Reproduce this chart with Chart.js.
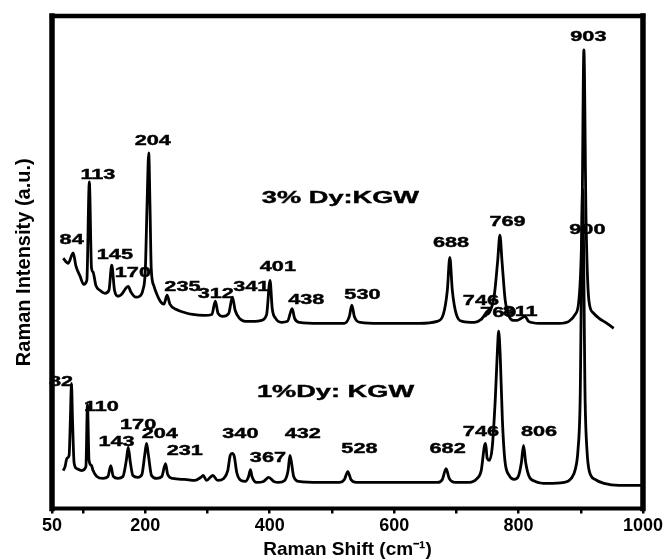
<!DOCTYPE html>
<html>
<head>
<meta charset="utf-8">
<script src="https://cdn.jsdelivr.net/npm/chart.js@4.4.1/dist/chart.umd.min.js"></script>
<style>
  body { margin: 0; background: #fff; }
  #wrap { width: 665px; height: 560px; }
</style>
</head>
<body>
<div id="wrap"><canvas id="raman" width="665" height="560"></canvas></div>
<script>
// Series names
const seriesNames = ['3% Dy:KGW', '1%Dy: KGW'];

// 3% Dy:KGW spectrum (Raman shift, intensity a.u.)
const shift3 = [68, 76, 84, 88.5, 95, 101, 106, 110, 113.5, 116, 120.5, 127, 135, 141.5, 146, 150.5, 156, 162, 168.5, 172.5,
  177, 185, 191, 196, 200, 203, 205.5, 207.5, 209.5, 213.5, 218.5, 225, 230, 235, 239.5, 250, 263, 276, 295, 307,
  312.5, 317, 324.5, 334, 340, 344.5, 351.5, 361, 376, 387, 395, 400.5, 404, 409.5, 419, 428.5, 436, 440, 448, 480,
  520, 528, 532, 536, 546, 576, 640, 669, 679, 685.5, 689.5, 693.5, 700, 709.5, 729, 740, 745.5, 753, 761, 766.5,
  770, 773.5, 778.5, 785, 791, 798, 804, 810.5, 816, 833, 865, 881, 891, 897, 902, 905, 908.5, 913, 919.5, 929.5,
  942, 953];
const int3 = [50.8, 49.8, 51.9, 49.2, 47.2, 45.5, 46.3, 66.3, 48.8, 48.0, 45.3, 44.3, 43.7, 44.3, 49.4, 44.3, 43.1, 43.5, 44.7, 45.1,
  43.9, 42.9, 43.1, 44.3, 48.4, 62.6, 72.2, 61.6, 48.8, 45.3, 43.5, 41.9, 41.5, 43.3, 41.5, 40.4, 39.8, 39.4, 39.2, 39.4,
  42.1, 39.6, 39.0, 39.6, 42.9, 40.2, 38.6, 38.0, 38.0, 38.2, 39.4, 46.3, 40.6, 38.6, 37.8, 38.0, 40.6, 38.6, 37.8, 37.6,
  37.6, 39.0, 41.3, 39.0, 37.8, 37.6, 37.6, 38.0, 39.4, 44.3, 51.0, 44.3, 39.4, 38.0, 37.8, 38.4, 39.2, 39.8, 43.3, 50.4,
  55.5, 50.0, 42.3, 39.0, 38.2, 38.2, 38.6, 39.0, 38.0, 37.6, 37.6, 38.0, 39.4, 42.3, 58.5, 93.1, 58.5, 42.3, 39.8, 38.6,
  37.6, 36.6];

// 1%Dy: KGW spectrum
const shift1 = [68, 71, 74, 77.5, 79.5, 81.3, 83, 85.5, 90, 98, 104.5, 107, 109.5, 113.5, 116, 122, 132, 140, 144.5, 148.5,
  156, 164, 169.5, 172.5, 176, 180, 188, 194.5, 199, 202, 205, 210, 218.5, 226.5, 232.5, 236, 244, 263, 279.5, 289,
  293, 298.5, 308.5, 316.5, 326, 332.5, 336.5, 339.5, 343, 347, 353.5, 361, 366, 369, 371.5, 379, 390, 398.5, 406.5, 414,
  424, 429.5, 432.5, 435, 438.5, 446.5, 480, 512, 520, 525.5, 530.5, 539.5, 608, 669.5, 677.5, 683.5, 688.5, 698.5, 720.5, 733.5,
  740, 745, 747, 749.5, 753, 757.5, 762.5, 766, 768, 770.5, 774, 778, 785, 793, 799.5, 804.5, 808, 811.5, 817, 827,
  846, 873, 884.5, 891.5, 895.5, 899, 903, 907, 910, 913.5, 923, 937.5, 961.5, 998];
const int1 = [7.7, 8.5, 10.2, 10.8, 17.9, 25.4, 17.9, 9.3, 8.1, 7.7, 8.5, 21.1, 9.8, 8.7, 7.7, 6.5, 6.1, 6.5, 8.7, 6.5,
  6.1, 6.5, 9.8, 12.4, 9.3, 6.7, 6.3, 6.9, 10.8, 13.2, 10.8, 6.7, 6.1, 6.5, 9.1, 6.9, 6.1, 5.9, 5.7, 6.3,
  6.7, 5.7, 6.7, 5.7, 6.1, 7.7, 10.8, 11.2, 10.6, 7.3, 5.7, 5.5, 6.5, 7.9, 6.5, 5.3, 5.5, 6.3, 5.5, 5.3,
  5.7, 7.7, 10.8, 9.3, 6.5, 5.5, 5.3, 5.3, 5.9, 7.5, 5.9, 5.3, 5.3, 5.3, 5.9, 8.1, 6.1, 5.3, 5.3, 6.1,
  7.7, 12.6, 13.2, 10.2, 9.8, 12.2, 22.0, 32.1, 36.0, 31.1, 17.9, 9.8, 6.7, 5.9, 6.5, 9.3, 12.8, 9.3, 6.5, 5.5,
  5.1, 5.3, 6.1, 8.1, 11.8, 22.0, 64.8, 22.0, 11.8, 7.7, 5.9, 5.1, 4.7, 4.7];

// peak labels and where they sit (data units)
const labels3 = ['84', '113', '145', '170', '204', '235', '312', '341', '401', '438', '530', '688', '746', '769', '811', '903'];
const labelX3 = [81.6, 123.8, 151.1, 180, 212.1, 259.7, 313.2, 370.4, 413.1, 458.7, 549, 691.4, 739.5, 782.2, 802.6, 912.2];
const labelY3 = [54.5, 67.7, 51.4, 47.8, 74.5, 45.0, 43.5, 44.9, 49.0, 42.3, 43.3, 53.8, 42.1, 58.2, 39.8, 95.7];

const labels1 = ['82', '110', '143', '170', '204', '231', '340', '367', '432', '528', '682', '746', '769', '806', '900'];
const labelX1 = [64.4, 129.4, 153.8, 188.5, 223.3, 263.4, 352.8, 397.1, 453.2, 544.2, 686, 739.5, 767.3, 833, 910.6];
const labelY1 = [25.6, 20.5, 13.5, 16.9, 15.0, 11.6, 15.0, 10.3, 15.0, 12.1, 12.1, 15.5, 39.6, 15.5, 56.5];

const nameX = [513.7, 505.7];
const nameY = [63.0, 23.6];

// x axis ticks
const tickValues = [50, 100, 200, 300, 400, 500, 600, 700, 800, 900, 1000];
const tickLabels = ['50', '', '200', '', '400', '', '600', '', '800', '', '1000'];

const toPoints = (xs, ys) => xs.map((x, i) => ({x: x, y: ys[i]}));

// draw the stretched annotation text under the curves
function stretchedText(ctx, text, x, y, size, sx) {
    ctx.save();
    ctx.translate(x, y);
    ctx.scale(sx, 1);
    ctx.font = 'bold ' + size + 'px "Liberation Sans", Arial, sans-serif';
    ctx.fillStyle = '#000';
    ctx.strokeStyle = '#000';
    ctx.lineWidth = 0.4;
    ctx.textAlign = 'center';
    ctx.textBaseline = 'middle';
    ctx.fillText(text, 0, 0);
    ctx.strokeText(text, 0, 0);
    ctx.restore();
}

const annotations = {
    id: 'annotations',
    beforeDatasetsDraw(chart) {
        const ctx = chart.ctx;
        const xs = chart.scales.x, ys = chart.scales.y;
        labels3.forEach((t, i) => stretchedText(ctx, t, xs.getPixelForValue(labelX3[i]), ys.getPixelForValue(labelY3[i]), 14, 1.55));
        labels1.forEach((t, i) => stretchedText(ctx, t, xs.getPixelForValue(labelX1[i]), ys.getPixelForValue(labelY1[i]), 14, 1.55));
        seriesNames.forEach((t, i) => stretchedText(ctx, t, xs.getPixelForValue(nameX[i]), ys.getPixelForValue(nameY[i]), 17, 1.6));
    }
};

// heavy frame round the plot
const frame = {
    id: 'frame',
    afterDraw(chart) {
        const {ctx, chartArea: a} = chart;
        ctx.save();
        ctx.strokeStyle = '#000';
        ctx.lineCap = 'square';
        const seg = (w, x1, y1, x2, y2) => {
            ctx.lineWidth = w;
            ctx.beginPath();
            ctx.moveTo(x1, y1);
            ctx.lineTo(x2, y2);
            ctx.stroke();
        };
        seg(4.5, a.left, a.top, a.right, a.top);
        seg(4, a.left, a.bottom, a.right, a.bottom);
        seg(5.5, a.left, a.top, a.left, a.bottom);
        seg(5.5, a.right, a.top, a.right, a.bottom);
        ctx.restore();
    }
};

new Chart(document.getElementById('raman'), {
    type: 'line',
    data: {
        datasets: [
            { label: seriesNames[0], data: toPoints(shift3, int3) },
            { label: seriesNames[1], data: toPoints(shift1, int1) }
        ]
    },
    options: {
        responsive: false,
        animation: false,
        layout: { padding: { left: 8, right: 21, top: 16, bottom: 0 } },
        elements: {
            line: { borderColor: '#000', borderWidth: 2.8, fill: false, cubicInterpolationMode: 'monotone' },
            point: { radius: 0 }
        },
        plugins: { legend: { display: false }, tooltip: { enabled: false } },
        scales: {
            x: {
                type: 'linear',
                min: 50,
                max: 1000,
                afterBuildTicks: (axis) => { axis.ticks = tickValues.map(v => ({ value: v })); },
                ticks: {
                    autoSkip: false,
                    maxRotation: 0,
                    padding: 2,
                    color: '#000',
                    font: { family: '"Liberation Sans", Arial, sans-serif', size: 18, weight: 'bold' },
                    callback: (v, i) => tickLabels[i]
                },
                grid: { drawOnChartArea: false, tickLength: 5, color: '#000', lineWidth: 2.5 },
                border: { display: false },
                title: {
                    display: true,
                    text: 'Raman Shift (cm\u207B\u00B9)',
                    color: '#000',
                    padding: { top: 0, bottom: 0 },
                    font: { family: '"Liberation Sans", Arial, sans-serif', size: 19, weight: 'bold', lineHeight: 1.1 }
                }
            },
            y: {
                min: 0,
                max: 100,
                ticks: { display: false },
                grid: { display: false, drawTicks: false },
                border: { display: false },
                title: {
                    display: true,
                    text: 'Raman Intensity (a.u.)',
                    color: '#000',
                    padding: { top: 4, bottom: 16 },
                    font: { family: '"Liberation Sans", Arial, sans-serif', size: 20, weight: 'bold', lineHeight: 1.2 }
                }
            }
        }
    },
    plugins: [annotations, frame]
});
</script>
</body>
</html>
